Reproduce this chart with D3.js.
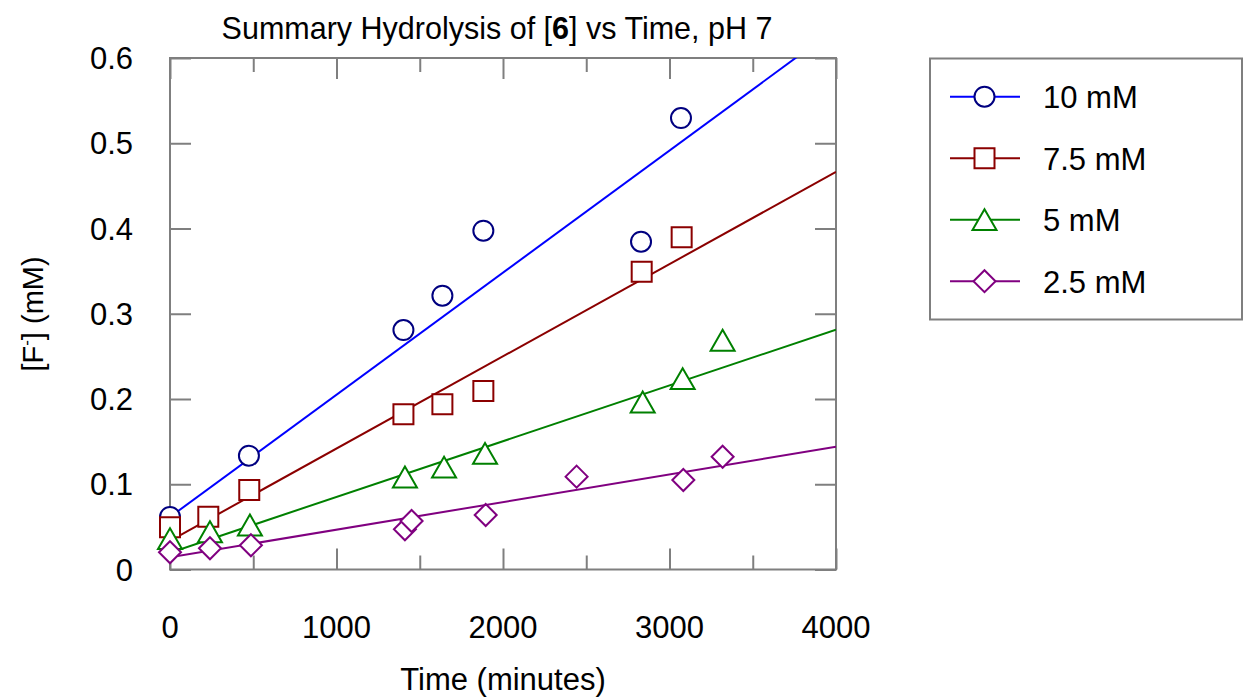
<!DOCTYPE html>
<html>
<head>
<meta charset="utf-8">
<script src="https://cdn.jsdelivr.net/npm/d3@7"></script>
<style>
  html, body { margin: 0; padding: 0; background: #fff; }
  svg { display: block; font-family: "Liberation Sans", Arial, sans-serif; }
</style>
</head>
<body>
<svg id="chart" width="1243" height="698"></svg>
<script>
// Fluoride release over time for four starting concentrations
const seriesNames = ["10 mM", "7.5 mM", "5 mM", "2.5 mM"];

const time10  = [0, 474, 1402, 1636, 1882, 2829, 3069];
const conc10  = [0.0616, 0.1335, 0.2809, 0.3212, 0.3974, 0.3845, 0.5296];

const time75  = [0, 230, 476, 1402, 1636, 1882, 2833, 3073];
const conc75  = [0.0495, 0.0619, 0.0933, 0.1821, 0.1938, 0.2094, 0.3493, 0.3897];

const time5   = [0, 240, 480, 1411, 1646, 1892, 2839, 3079, 3319];
const conc5   = [0.0361, 0.0443, 0.0522, 0.1085, 0.1202, 0.1363, 0.1965, 0.2238, 0.2689];

const time25  = [0, 240, 486, 1411, 1451, 1896, 2442, 3083, 3319];
const conc25  = [0.0202, 0.0249, 0.0284, 0.0472, 0.0569, 0.0639, 0.1089, 0.1050, 0.1323];

// Linear fit of each series: [F-] = intercept + slope * t
const fitIntercepts = [0.0616, 0.0337, 0.0197, 0.0143];
const fitSlopes     = [1.433e-4, 1.0818e-4, 6.54e-5, 3.24e-5];

const xTicks = [0, 1000, 2000, 3000, 4000];
const xMinorTicks = [500, 1500, 2500, 3500];
const yTicks = [0, 0.1, 0.2, 0.3, 0.4, 0.5, 0.6];

const lineColors   = ["#0000ff", "#8b0000", "#008000", "#800080"];
const markerColors = ["#000080", "#8b0000", "#008000", "#800080"];
const markerShapes = ["circle", "square", "triangle", "diamond"];

const times = [time10, time75, time5, time25];
const concs = [conc10, conc75, conc5, conc25];

const svg = d3.select("#chart");
const frame = { left: 170, right: 836, top: 58, bottom: 569.5 };

const x = d3.scaleLinear().domain([0, 4000]).range([frame.left, frame.right]);
const y = d3.scaleLinear().domain([0, 0.6]).range([frame.bottom, frame.top]);

const axisColor = "#7f7f7f";
const fontSize = 31;

// marker path generator, centred on (0,0)
function markerPath(shape) {
  switch (shape) {
    case "circle": return d3.symbol(d3.symbolCircle, Math.PI * 10 * 10)();
    case "square": return "M-10,-10H10V10H-10Z";
    case "triangle": return "M0,-10.4L12,10.4H-12Z";
    case "diamond": return "M0,-11L11,0L0,11L-11,0Z";
  }
}

// clip area for fit lines
svg.append("defs").append("clipPath").attr("id", "plotClip")
  .append("rect")
  .attr("x", frame.left).attr("y", frame.top)
  .attr("width", frame.right - frame.left)
  .attr("height", frame.bottom - frame.top);

// frame
svg.append("rect")
  .attr("x", frame.left).attr("y", frame.top)
  .attr("width", frame.right - frame.left)
  .attr("height", frame.bottom - frame.top)
  .attr("fill", "none").attr("stroke", axisColor).attr("stroke-width", 2);

// inward ticks using d3 axes (negative tick size points inside the frame)
function styleAxis(g) {
  g.select(".domain").remove();
  g.selectAll(".tick line").attr("stroke", axisColor).attr("stroke-width", 2);
}
svg.append("g").attr("transform", `translate(0,${frame.bottom})`)
  .call(d3.axisBottom(x).tickValues(xTicks).tickSize(-21).tickFormat(""))
  .call(styleAxis);
svg.append("g").attr("transform", `translate(0,${frame.bottom})`)
  .call(d3.axisBottom(x).tickValues(xMinorTicks).tickSize(-14).tickFormat(""))
  .call(styleAxis);
svg.append("g").attr("transform", `translate(0,${frame.top})`)
  .call(d3.axisTop(x).tickValues(xTicks).tickSize(-21).tickFormat(""))
  .call(styleAxis);
svg.append("g").attr("transform", `translate(0,${frame.top})`)
  .call(d3.axisTop(x).tickValues(xMinorTicks).tickSize(-14).tickFormat(""))
  .call(styleAxis);
svg.append("g").attr("transform", `translate(${frame.left},0)`)
  .call(d3.axisLeft(y).tickValues(yTicks).tickSize(-21).tickFormat(""))
  .call(styleAxis);
svg.append("g").attr("transform", `translate(${frame.right},0)`)
  .call(d3.axisRight(y).tickValues(yTicks).tickSize(-21).tickFormat(""))
  .call(styleAxis);

// tick labels
svg.append("g").selectAll("text").data(xTicks).join("text")
  .attr("x", d => x(d)).attr("y", 638)
  .attr("text-anchor", "middle").attr("font-size", fontSize).attr("fill", "#000")
  .text(d => d3.format("d")(d));
svg.append("g").selectAll("text").data(yTicks).join("text")
  .attr("x", 133).attr("y", d => y(d)).attr("dy", "0.36em")
  .attr("text-anchor", "end").attr("font-size", fontSize).attr("fill", "#000")
  .text(d => d === 0 ? "0" : d3.format(".1f")(d));

// title
const title = svg.append("text")
  .attr("x", 497).attr("y", 39)
  .attr("text-anchor", "middle").attr("font-size", 30.5).attr("fill", "#000");
title.append("tspan").text("Summary Hydrolysis of [");
title.append("tspan").attr("font-weight", "bold").text("6");
title.append("tspan").text("] vs Time, pH 7");

// axis titles
svg.append("text")
  .attr("x", 503).attr("y", 690)
  .attr("text-anchor", "middle").attr("font-size", fontSize).attr("fill", "#000")
  .text("Time (minutes)");

const yTitle = svg.append("text")
  .attr("transform", "translate(43,314) rotate(-90)")
  .attr("text-anchor", "middle").attr("font-size", 29).attr("fill", "#000");
yTitle.append("tspan").text("[F");
yTitle.append("tspan").attr("font-size", 17).attr("dy", -11).text("-");
yTitle.append("tspan").attr("dy", 11).text("] (mM)");

// fit lines
const fitLine = d3.line().x(d => x(d[0])).y(d => y(d[1]));
svg.append("g").attr("clip-path", "url(#plotClip)")
  .selectAll("path").data(seriesNames).join("path")
  .attr("d", (s, i) => fitLine([0, 4000].map(t => [t, fitIntercepts[i] + fitSlopes[i] * t])))
  .attr("fill", "none")
  .attr("stroke", (s, i) => lineColors[i])
  .attr("stroke-width", 2);

// data markers, one group per series in legend order
seriesNames.forEach((s, i) => {
  svg.append("g").selectAll("path")
    .data(times[i].map((t, j) => [t, concs[i][j]]))
    .join("path")
    .attr("d", markerPath(markerShapes[i]))
    .attr("transform", d => `translate(${x(d[0])},${y(d[1])})`)
    .attr("fill", "#fff")
    .attr("stroke", markerColors[i])
    .attr("stroke-width", 2);
});

// legend
const legend = svg.append("g");
legend.append("rect")
  .attr("x", 930).attr("y", 58.5).attr("width", 312).attr("height", 261)
  .attr("fill", "#fff").attr("stroke", axisColor).attr("stroke-width", 2);
const rows = legend.selectAll("g.row").data(seriesNames).join("g")
  .attr("class", "row")
  .attr("transform", (s, i) => `translate(0,${96.7 + i * 61.5})`);
rows.append("line")
  .attr("x1", 950).attr("x2", 1020).attr("y1", 0).attr("y2", 0)
  .attr("stroke", (s, i) => lineColors[i]).attr("stroke-width", 2);
rows.append("path")
  .attr("d", (s, i) => markerPath(markerShapes[i]))
  .attr("transform", "translate(984.5,0)")
  .attr("fill", "#fff")
  .attr("stroke", (s, i) => markerColors[i])
  .attr("stroke-width", 2);
rows.append("text")
  .attr("x", 1043).attr("y", 11.5)
  .attr("font-size", fontSize).attr("fill", "#000")
  .text(s => s);
</script>
</body>
</html>
